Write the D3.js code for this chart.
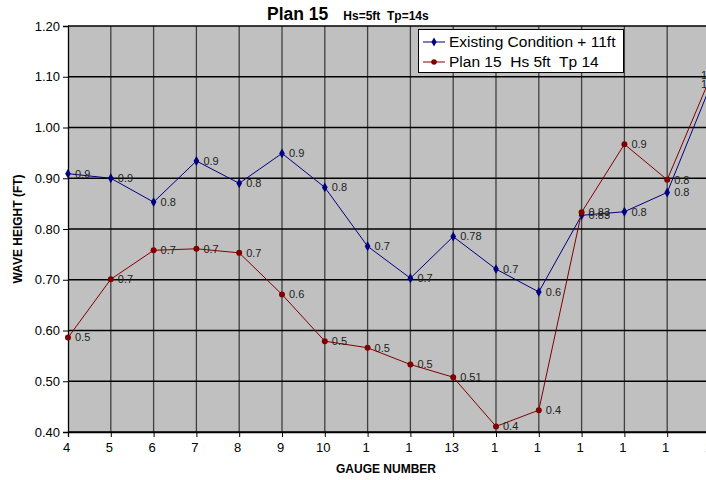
<!DOCTYPE html>
<html><head><meta charset="utf-8">
<script src="https://cdn.jsdelivr.net/npm/d3@7"></script>
<style>body{margin:0;background:#fff;overflow:hidden}svg{display:block;font-family:"Liberation Sans",Arial,sans-serif}text{white-space:pre}</style>
</head><body><svg id="c" width="706" height="480"></svg>
<script>
const categories = ["4","5","6","7","8","9","10","1","1","13","1","1","1","1","1","1"];
const existing = [0.909,0.900,0.853,0.934,0.890,0.949,0.882,0.766,0.703,0.785,0.721,0.676,0.827,0.834,0.872,1.080];
const plan15 = [0.586,0.701,0.758,0.761,0.753,0.671,0.579,0.566,0.533,0.508,0.411,0.443,0.833,0.967,0.897,1.097];
const existingLabels = ["0.9","0.9","0.8","0.9","0.8","0.9","0.8","0.7","0.7","0.78","0.7","0.6","0.83","0.8","0.8","1.0"];
const planLabels = ["0.5","0.7","0.7","0.7","0.7","0.6","0.5","0.5","0.5","0.51","0.4","0.4","0.83","0.9","0.8","1.1"];
const yTicks = [0.40,0.50,0.60,0.70,0.80,0.90,1.00,1.10,1.20];

const svg = d3.select("#c");
const L = 68, T = 26, B = 432;
const idx = d3.range(categories.length);
const x = d3.scaleLinear().domain([0, categories.length - 1]).range([L, L + 42.8 * 15]);
const y = d3.scaleLinear().domain([0.4, 1.2]).range([B, T]);
const R = 760;

svg.append("rect").attr("x", L).attr("y", T).attr("width", R - L).attr("height", B - T).attr("fill", "#c0c0c0");

svg.append("g").selectAll("line").data(idx.slice(1)).join("line")
  .attr("x1", d => x(d)).attr("x2", d => x(d)).attr("y1", T).attr("y2", B)
  .attr("stroke", "#404040").attr("stroke-width", 1.3);
svg.append("g").selectAll("line").data(yTicks).join("line")
  .attr("x1", L).attr("x2", R).attr("y1", d => y(d)).attr("y2", d => y(d))
  .attr("stroke", "#000").attr("stroke-width", 1.3);

const yAxis = d3.axisLeft(y).tickValues(yTicks).tickFormat(d3.format(".2f")).tickSize(5).tickPadding(3);
const gy = svg.append("g").attr("transform", `translate(${L},0)`).call(yAxis);
gy.select(".domain").attr("stroke", "#000").attr("stroke-width", 1.3);
gy.selectAll(".tick line").attr("stroke", "#000");
gy.selectAll("text").attr("font-size", 13).attr("fill", "#000").attr("font-family", "Liberation Sans, Arial");

const xAxis = d3.axisBottom(x).tickValues(idx).tickFormat(i => categories[i]).tickSize(5).tickPadding(6);
const gx = svg.append("g").attr("transform", `translate(0,${B})`).call(xAxis);
gx.select(".domain").attr("stroke", "#000").attr("stroke-width", 1.3);
gx.selectAll(".tick line").attr("stroke", "#000");
gx.selectAll("text").attr("font-size", 13).attr("fill", "#000").attr("dx", -2).attr("font-family", "Liberation Sans, Arial");

const series = [
  {vals: existing, labels: existingLabels, color: "#000080", marker: d3.symbolDiamond},
  {vals: plan15, labels: planLabels, color: "#800000", marker: d3.symbolCircle}
];
const line = d3.line().x((d, i) => x(i)).y(d => y(d));
series.forEach(s => {
  svg.append("path").datum(s.vals).attr("d", line).attr("fill", "none").attr("stroke", s.color).attr("stroke-width", 1);
  svg.append("g").selectAll("path").data(s.vals).join("path")
    .attr("transform", (d, i) => `translate(${x(i)},${y(d)})`)
    .attr("d", d3.symbol().type(s.marker).size(28))
    .attr("fill", s.color);
  svg.append("g").selectAll("text").data(s.vals).join("text")
    .attr("x", (d, i) => i === s.vals.length - 1 ? 701 : x(i) + 7)
    .attr("y", (d, i) => i === s.vals.length - 1 ? (s.color === "#800000" ? 75 : 84) : y(d))
    .attr("dy", "0.35em").attr("font-size", 11).attr("fill", "#222")
    .text((d, i) => s.labels[i]);
});

const title = svg.append("text").attr("x", 267).attr("y", 20).attr("font-weight", "bold").attr("fill", "#000");
title.append("tspan").attr("font-size", 17.5).text("Plan 15");
title.append("tspan").attr("font-size", 12).attr("dx", 15).text("Hs=5ft  Tp=14s");

svg.append("text").attr("x", 386).attr("y", 473).attr("text-anchor", "middle")
  .attr("font-size", 12).attr("font-weight", "bold").text("GAUGE NUMBER");
svg.append("text").attr("transform", "translate(22,229) rotate(-90)").attr("text-anchor", "middle")
  .attr("font-size", 12).attr("font-weight", "bold").text("WAVE HEIGHT (FT)");

const lg = svg.append("g");
lg.append("rect").attr("x", 418.5).attr("y", 29.5).attr("width", 205).attr("height", 43)
  .attr("fill", "#fff").attr("stroke", "#000").attr("stroke-width", 1);
const legendNames = ["Existing Condition + 11ft", "Plan 15  Hs 5ft  Tp 14"];
series.forEach((s, i) => {
  const yy = 42 + i * 20;
  lg.append("line").attr("x1", 423).attr("x2", 445).attr("y1", yy).attr("y2", yy).attr("stroke", s.color);
  lg.append("path").attr("transform", `translate(434,${yy})`)
    .attr("d", d3.symbol().type(s.marker).size(24)).attr("fill", s.color);
  lg.append("text").attr("x", 449).attr("y", yy).attr("dy", "0.35em").attr("font-size", 15.5).text(legendNames[i]);
});
</script></body></html>
